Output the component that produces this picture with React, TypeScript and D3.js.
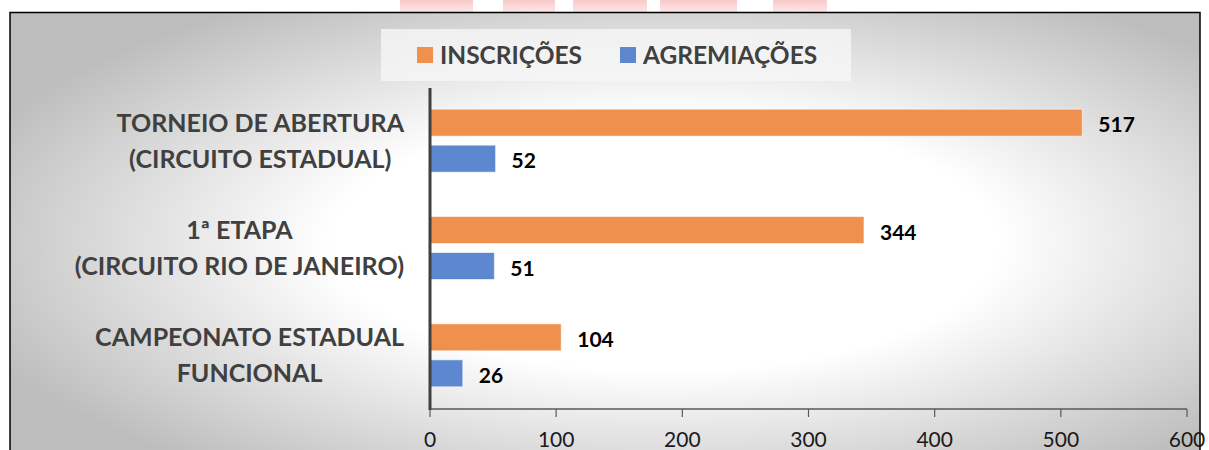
import { useLayoutEffect, useRef } from "react"
import * as d3 from "d3"

const W = 1209
const H = 450

const categories = [
  ["TORNEIO DE ABERTURA", "(CIRCUITO ESTADUAL)"],
  ["1ª ETAPA", "(CIRCUITO RIO DE JANEIRO)"],
  ["CAMPEONATO ESTADUAL", "FUNCIONAL"],
]
const inscricoes = [517, 344, 104]
const agremiacoes = [52, 51, 26]
const xTicks = [0, 100, 200, 300, 400, 500, 600]

const SERIES = [
  { name: "INSCRIÇÕES", color: "#EF904F", values: inscricoes },
  { name: "AGREMIAÇÕES", color: "#5D87CF", values: agremiacoes },
]

// watermark letter stubs peeking above the frame
const watermark: Array<[number, number]> = [
  [400, 473],
  [503, 555],
  [573, 647],
  [660, 737],
  [773, 827],
]

const FONT = "Lato, 'Open Sans', sans-serif"

export default function App() {
  const labelsRef = useRef<SVGGElement>(null)

  const x = d3.scaleLinear().domain([0, 600]).range([430, 1187])
  const y = d3
    .scaleBand<number>()
    .domain(d3.range(categories.length))
    .range([87, 409])
  const barH = 27
  const offsets = [-31.5, 4.5]

  // centre each multi-line label as a block, block right-aligned to 404
  useLayoutEffect(() => {
    const g = labelsRef.current
    if (!g) return
    d3.select(g)
      .selectAll<SVGGElement, unknown>("g.cat")
      .each(function () {
        const texts = d3.select(this).selectAll<SVGTextElement, unknown>("text")
        let maxW = 0
        texts.each(function () {
          maxW = Math.max(maxW, this.getComputedTextLength())
        })
        texts.attr("x", 404 - maxW / 2)
      })
  }, [])

  return (
    <svg
      width={W}
      height={H}
      style={{ position: "absolute", left: 0, top: 0, display: "block" }}
      fontFamily={FONT}
    >
      <defs>
        <radialGradient id="bg" cx="55%" cy="50%" r="62%">
          <stop offset="0.45" stopColor="#ffffff" />
          <stop offset="1" stopColor="#bdbdbd" />
        </radialGradient>
        <linearGradient id="wm" x1="0" y1="0" x2="0" y2="1">
          <stop offset="0" stopColor="#f8caca" />
          <stop offset="1" stopColor="#fde8e8" />
        </linearGradient>
      </defs>

      <rect width={W} height={H} fill="#fff" />
      {watermark.map(([a, b], i) => (
        <rect key={i} x={a} y={0} width={b - a} height={13} fill="url(#wm)" />
      ))}

      {/* frame */}
      <rect x={10} y={12.5} width={1190} height={460} fill="url(#bg)" stroke="#000" strokeWidth={1.5} />

      {/* legend */}
      <rect x={381} y={29} width={470} height={52} fill="#f6f6f6" opacity={0.8} />
      {SERIES.map((s, i) => {
        const lx = i === 0 ? 417 : 620
        return (
          <g key={s.name}>
            <rect x={lx} y={47} width={16} height={16} fill={s.color} />
            <text x={lx + 23} y={64} fontSize={24.5} fontWeight={700} fill="#404040">
              {s.name}
            </text>
          </g>
        )
      })}

      {/* category labels */}
      <g ref={labelsRef}>
        {categories.map((lines, i) => {
          const cy = (y(i) ?? 0) + y.bandwidth() / 2
          return (
            <g className="cat" key={i}>
              {lines.map((l, j) => (
                <text
                  key={j}
                  x={250}
                  y={cy - 9 + j * 36}
                  textAnchor="middle"
                  fontSize={25}
                  fontWeight={700}
                  fill="#404040"
                >
                  {l}
                </text>
              ))}
            </g>
          )
        })}
      </g>

      {/* bars */}
      {categories.map((_, i) => {
        const cy = (y(i) ?? 0) + y.bandwidth() / 2
        return SERIES.map((s, k) => {
          const v = s.values[i]
          const by = cy + offsets[k]
          return (
            <g key={`${i}-${k}`}>
              <rect
                x={x(0)}
                y={by}
                width={x(v) - x(0)}
                height={barH}
                fill={s.color}
                stroke="#ffffff"
                strokeOpacity={0.6}
                strokeWidth={1}
              />
              <text
                x={x(v) + 16}
                y={by + barH / 2 + 9.5}
                fontSize={21}
                fontWeight={700}
                fill="#000"
              >
                {v}
              </text>
            </g>
          )
        })
      })}

      {/* x axis */}
      <line x1={x(0)} x2={x(600)} y1={409} y2={409} stroke="#595959" strokeWidth={1.5} />
      {xTicks.map((t) => (
        <g key={t}>
          <line x1={x(t)} x2={x(t)} y1={409} y2={417} stroke="#595959" strokeWidth={1.2} />
          <text x={x(t)} y={446.5} textAnchor="middle" fontSize={21} fill="#1a1a1a">
            {t}
          </text>
        </g>
      ))}

      {/* category axis */}
      <line x1={x(0)} x2={x(0)} y1={88} y2={410} stroke="#404040" strokeWidth={3} />
    </svg>
  )
}
